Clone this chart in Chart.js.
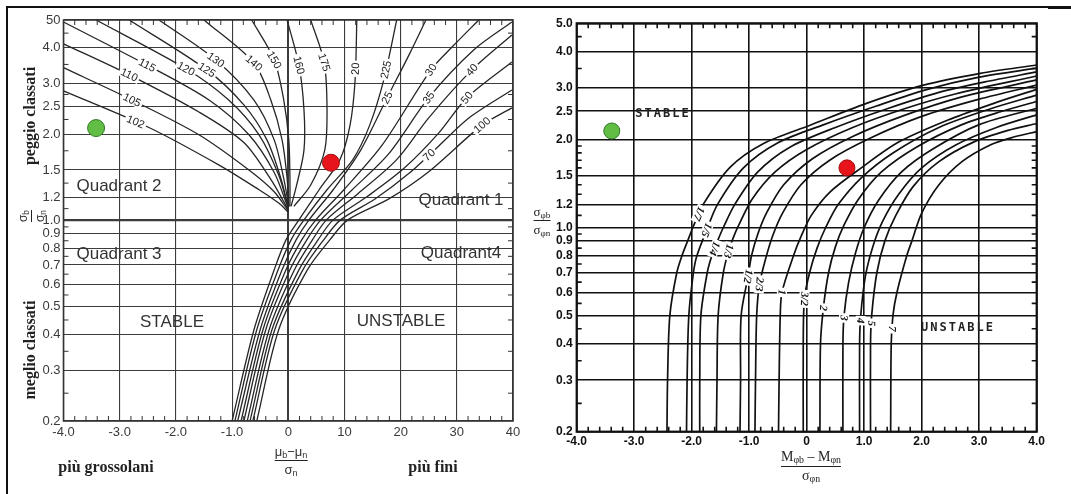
<!DOCTYPE html>
<html><head><meta charset="utf-8">
<script src="https://cdn.jsdelivr.net/npm/chart.js@4.4.1/dist/chart.umd.min.js"></script>
<style>
html,body{margin:0;padding:0;background:#fff;}
body{width:1071px;height:494px;position:relative;overflow:hidden;font-family:"Liberation Sans",Arial,sans-serif;color:#222;}
.abs{position:absolute;white-space:nowrap;}
.c{transform:translate(-50%,-50%);}
.ser{font-family:"Liberation Serif","DejaVu Serif",serif;font-weight:bold;}
.q{font-size:17px;color:#333;}
.frac{display:inline-flex;flex-direction:column;align-items:center;line-height:1;}
.frac .bar{height:1px;background:#222;align-self:stretch;margin:2px 0;}
sub{font-size:70%;vertical-align:-2px;line-height:0;}
#c1{position:absolute;left:0;top:0;}
#c2{position:absolute;left:530px;top:0;}
</style></head><body>
<div class="abs" style="left:6px;top:6px;width:1052px;height:2px;background:#111"></div>
<div class="abs" style="left:6px;top:6px;width:2px;height:488px;background:#111"></div>
<div class="abs" style="left:1048px;top:6px;width:23px;height:3px;background:#111"></div>
<canvas id="c1" width="530" height="494" style="width:530px;height:494px"></canvas>
<canvas id="c2" width="541" height="494" style="width:541px;height:494px"></canvas>

<!-- left chart titles -->
<div class="abs ser" style="left:30px;top:116px;font-size:16px;transform:translate(-50%,-50%) rotate(-90deg);">peggio classati</div>
<div class="abs ser" style="left:30px;top:350px;font-size:16px;transform:translate(-50%,-50%) rotate(-90deg);">meglio classati</div>
<div class="abs" style="left:31px;top:216px;font-size:12px;transform:translate(-50%,-50%) rotate(-90deg);color:#333"><span class="frac"><span>σ<sub>b</sub></span><span class="bar"></span><span>σ<sub>n</sub></span></span></div>
<div class="abs ser" style="left:106px;top:467px;font-size:16px;transform:translate(-50%,-50%);">più grossolani</div>
<div class="abs ser" style="left:433px;top:467px;font-size:16px;transform:translate(-50%,-50%);">più fini</div>
<div class="abs" style="left:291px;top:460px;font-size:13px;transform:translate(-50%,-50%);color:#333"><span class="frac"><span>μ<sub>b</sub>−μ<sub>n</sub></span><span class="bar"></span><span>σ<sub>n</sub></span></span></div>
<div class="abs c q" style="left:119px;top:186px;">Quadrant 2</div>
<div class="abs c q" style="left:461px;top:200px;">Quadrant 1</div>
<div class="abs c q" style="left:119px;top:254px;">Quadrant 3</div>
<div class="abs c q" style="left:461px;top:253px;">Quadrant4</div>
<div class="abs c q" style="left:172px;top:322px;">STABLE</div>
<div class="abs c q" style="left:401px;top:321px;">UNSTABLE</div>

<!-- right chart titles -->
<div class="abs" style="left:542px;top:220px;font-size:13px;transform:translate(-50%,-50%);font-family:'Liberation Serif',serif;"><span class="frac"><span>σ<sub>φb</sub></span><span class="bar"></span><span>σ<sub>φn</sub></span></span></div>
<div class="abs" style="left:811px;top:466px;font-size:14px;transform:translate(-50%,-50%);font-family:'Liberation Serif',serif;"><span class="frac"><span>M<sub>φb</sub> – M<sub>φn</sub></span><span class="bar"></span><span>σ<sub>φn</sub></span></span></div>
<div class="abs c" style="left:663px;top:113px;font-size:12px;font-weight:bold;letter-spacing:2px;font-family:'DejaVu Sans Mono',monospace;">STABLE</div>
<div class="abs c" style="left:958px;top:327px;font-size:12px;font-weight:bold;letter-spacing:2px;font-family:'DejaVu Sans Mono',monospace;">UNSTABLE</div>

<script>
// ---------- LEFT CHART DATA ----------
const leftXTicks = [-4,-3,-2,-1,0,1,2,3,4];
const leftXTickLabels = ['-4.0','-3.0','-2.0','-1.0','0','10','20','30','40'];
const leftYTicks = [0.2,0.3,0.4,0.5,0.6,0.7,0.8,0.9,1.0,1.2,1.5,2.0,2.5,3.0,4.0,5.0];
const leftYTickLabels = ['0.2','0.3','0.4','0.5','0.6','0.7','0.8','0.9','1.0','1.2','1.5','2.0','2.5','3.0','4.0','50'];
const leftMinorY = [4.5,3.5,2.75,2.25,1.75,1.35,1.1,0.95,0.85,0.75,0.65,0.55,0.45,0.35,0.25];

const L102 = [[-4.0,2.83],[-2.48,2.11],[-1.23,1.56],[-0.52,1.28],[-0.17,1.15],[0.0,1.07]];
const L105 = [[-4.0,3.41],[-2.78,2.63],[-1.59,1.99],[-0.70,1.50],[-0.25,1.26],[0.0,1.08]];
const L110 = [[-4.0,4.13],[-2.83,3.22],[-1.59,2.39],[-0.79,1.87],[-0.31,1.39],[0.0,1.09]];
const L115 = [[-4.0,4.92],[-2.51,3.48],[-1.41,2.63],[-0.70,1.99],[-0.25,1.47],[0.0,1.10]];
const L120 = [[-3.42,5.0],[-1.82,3.38],[-1.06,2.63],[-0.52,1.99],[-0.17,1.44],[0.0,1.11]];
const L125 = [[-2.83,5.0],[-1.45,3.35],[-0.79,2.53],[-0.38,1.91],[-0.13,1.40],[0.0,1.11]];
const L130 = [[-2.30,5.0],[-1.29,3.63],[-0.61,2.63],[-0.25,1.91],[-0.08,1.40],[0.01,1.12]];
const L140 = [[-1.50,5.0],[-0.61,3.54],[-0.31,2.63],[-0.11,1.91],[-0.02,1.40],[0.01,1.12]];
const L150 = [[-0.65,5.0],[-0.25,3.63],[-0.08,2.63],[0.01,1.91],[0.03,1.40],[0.03,1.12]];
const L160 = [[-0.02,5.0],[0.19,3.48],[0.28,2.43],[0.28,1.76],[0.15,1.33],[0.05,1.12]];
const L175 = [[0.40,5.0],[0.64,3.56],[0.69,2.43],[0.65,1.76],[0.40,1.33],[0.10,1.12]];
const L20  = [[-1.0,0.2],[-0.61,0.416],[-0.25,0.673],[-0.04,0.856],[0.19,1.005],[0.55,1.28],[0.92,1.63],[1.10,2.15],[1.19,3.09],[1.22,5.0]];
const L225 = [[-0.95,0.2],[-0.56,0.416],[-0.18,0.673],[0.05,0.856],[0.28,1.005],[0.69,1.28],[1.15,1.63],[1.45,2.15],[1.70,3.09],[1.93,5.0]];
const L25  = [[-0.90,0.2],[-0.50,0.416],[-0.11,0.673],[0.14,0.856],[0.37,1.005],[0.80,1.28],[1.29,1.76],[1.76,2.68],[2.15,3.78],[2.45,5.0]];
const L30  = [[-0.84,0.2],[-0.45,0.416],[-0.04,0.673],[0.24,0.856],[0.49,1.005],[0.99,1.28],[1.67,1.83],[2.54,3.35],[2.95,4.09],[3.39,5.0]];
const L35  = [[-0.79,0.2],[-0.40,0.416],[0.03,0.673],[0.33,0.856],[0.58,1.005],[1.12,1.27],[1.79,1.71],[2.50,2.68],[3.30,3.93],[3.98,4.92]];
const L40  = [[-0.73,0.2],[-0.34,0.416],[0.11,0.673],[0.43,0.856],[0.68,1.005],[1.24,1.24],[1.93,1.63],[2.50,2.28],[3.27,3.35],[3.98,4.43]];
const L50  = [[-0.68,0.2],[-0.29,0.416],[0.19,0.673],[0.53,0.856],[0.80,1.005],[1.40,1.21],[2.06,1.52],[2.68,2.02],[3.18,2.68],[3.98,3.57]];
const L70  = [[-0.63,0.2],[-0.24,0.416],[0.26,0.673],[0.63,0.856],[0.93,1.005],[1.55,1.19],[2.15,1.46],[2.68,1.82],[3.22,2.28],[3.98,2.85]];
const L100 = [[-0.56,0.2],[-0.17,0.416],[0.34,0.673],[0.74,0.856],[1.06,1.005],[1.79,1.19],[2.50,1.48],[3.45,2.15],[3.98,2.47]];
const leftCurves = [L102,L105,L110,L115,L120,L125,L130,L140,L150,L160,L175,L20,L225,L25,L30,L35,L40,L50,L70,L100];
const leftCurveLabels = ['102','105','110','115','120','125','130','140','150','160','175','20','225','25','30','35','40','50','70','100'];
const leftLabelX = [-2.71,-2.78,-2.83,-2.51,-1.82,-1.45,-1.29,-0.61,-0.25,0.19,0.64,1.20,1.67,1.76,2.54,2.50,3.27,3.18,2.45,3.45];
const leftLabelY = [2.22,2.63,3.22,3.48,3.38,3.35,3.63,3.54,3.63,3.48,3.56,3.38,3.38,2.68,3.35,2.68,3.35,2.68,1.74,2.15];
const leftGreen = [-3.42,2.10];
const leftRed = [0.76,1.59];

// ---------- RIGHT CHART DATA ----------
const rightXTicks = [-4,-3,-2,-1,0,1,2,3,4];
const rightXTickLabels = ['-4.0','-3.0','-2.0','-1.0','0','1.0','2.0','3.0','4.0'];
const rightYTicks = [0.2,0.3,0.4,0.5,0.6,0.7,0.8,0.9,1.0,1.2,1.5,2.0,2.5,3.0,4.0,5.0];
const rightYTickLabels = ['0.2','0.3','0.4','0.5','0.6','0.7','0.8','0.9','1.0','1.2','1.5','2.0','2.5','3.0','4.0','5.0'];
const rightMinorY = [4.5,3.5,1.9,1.8,1.7,1.6,1.4,1.3,1.1,0.95,0.85,0.75,0.65,0.55,0.45,0.35,0.25];

const R17 = [[-2.43,0.2],[-2.42,0.3],[-2.38,0.5],[-2.26,0.7],[-2.17,0.8],[-2.07,0.9],[-1.98,1.0],[-1.80,1.2],[-1.33,1.61],[-0.75,1.94],[0.06,2.24],[1.04,2.66],[2.03,3.07],[3.02,3.37],[4.0,3.60]];
const R15 = [[-2.09,0.2],[-2.08,0.3],[-2.05,0.5],[-1.97,0.7],[-1.91,0.8],[-1.74,0.98],[-1.55,1.2],[-1.10,1.6],[-0.50,1.95],[0.30,2.25],[1.20,2.60],[2.10,2.97],[3.00,3.27],[4.0,3.51]];
const R14 = [[-1.86,0.2],[-1.86,0.3],[-1.84,0.5],[-1.73,0.7],[-1.65,0.8],[-1.55,0.9],[-1.45,1.0],[-1.25,1.2],[-0.85,1.55],[-0.30,1.88],[0.50,2.20],[1.40,2.55],[2.30,2.90],[3.10,3.15],[4.0,3.41]];
const R13 = [[-1.57,0.2],[-1.56,0.3],[-1.54,0.5],[-1.45,0.7],[-1.36,0.83],[-1.28,0.92],[-1.18,1.02],[-0.95,1.25],[-0.55,1.55],[0.0,1.85],[0.80,2.20],[1.70,2.55],[2.60,2.87],[4.0,3.30]];
const R12 = [[-1.16,0.2],[-1.15,0.3],[-1.14,0.5],[-1.02,0.68],[-0.96,0.8],[-0.85,0.95],[-0.70,1.12],[-0.40,1.40],[0.10,1.72],[0.80,2.05],[1.70,2.42],[2.70,2.80],[4.0,3.20]];
const R23 = [[-0.90,0.2],[-0.89,0.3],[-0.87,0.5],[-0.82,0.64],[-0.70,0.8],[-0.58,0.95],[-0.42,1.12],[-0.10,1.40],[0.40,1.70],[1.10,2.02],[2.00,2.40],[3.00,2.75],[4.0,3.07]];
const R1  = [[-0.49,0.2],[-0.48,0.3],[-0.46,0.5],[-0.43,0.60],[-0.23,0.8],[-0.10,0.93],[0.08,1.10],[0.40,1.32],[0.95,1.60],[1.60,1.96],[2.50,2.35],[3.30,2.68],[4.0,2.97]];
const R32 = [[-0.06,0.2],[-0.06,0.4],[-0.04,0.57],[0.05,0.70],[0.18,0.85],[0.33,1.0],[0.55,1.2],[0.95,1.48],[1.50,1.80],[2.30,2.20],[3.20,2.55],[4.0,2.84]];
const R2  = [[0.23,0.2],[0.24,0.4],[0.29,0.53],[0.38,0.70],[0.50,0.86],[0.65,1.02],[0.90,1.25],[1.30,1.55],[1.90,1.88],[2.70,2.25],[3.40,2.50],[4.0,2.70]];
const R3  = [[0.63,0.2],[0.63,0.4],[0.65,0.5],[0.73,0.65],[0.85,0.82],[1.00,1.0],[1.25,1.24],[1.65,1.55],[2.20,1.86],[3.00,2.25],[4.0,2.56]];
const R4  = [[0.92,0.2],[0.92,0.4],[0.94,0.5],[1.02,0.68],[1.15,0.86],[1.32,1.05],[1.60,1.30],[2.00,1.60],[2.60,1.92],[3.30,2.20],[4.0,2.43]];
const R5  = [[1.11,0.2],[1.11,0.4],[1.13,0.5],[1.22,0.7],[1.36,0.9],[1.55,1.1],[1.85,1.38],[2.30,1.68],[2.90,1.96],[3.50,2.15],[4.0,2.27]];
const R7  = [[1.46,0.2],[1.47,0.4],[1.50,0.5],[1.57,0.6],[1.74,0.8],[1.83,0.9],[2.00,1.12],[2.30,1.40],[2.70,1.68],[3.20,1.92],[3.60,2.04],[4.0,2.13]];
const rightCurves = [R17,R15,R14,R13,R12,R23,R1,R32,R2,R3,R4,R5,R7];
const rightCurveLabels = ['1/7','1/5','1/4','1/3','1/2','2/3','1','3/2','2','3','4','5','7'];
const rightLabelX = [-1.90,-1.74,-1.62,-1.36,-1.02,-0.84,-0.43,-0.04,0.29,0.66,0.95,1.14,1.50];
const rightLabelY = [1.12,0.98,0.85,0.83,0.68,0.64,0.60,0.57,0.53,0.49,0.48,0.47,0.45];
const rightGreen = [-3.39,2.14];
const rightRed = [0.70,1.60];

// ---------- HELPERS ----------
function toXY(arr){ return arr.map(p=>({x:p[0],y:p[1]})); }

function snapLabel(chart, pts, lx, ly){
  const xs = chart.scales.x, ys = chart.scales.y;
  const P = pts.map(p=>[xs.getPixelForValue(p[0]), ys.getPixelForValue(p[1])]);
  const tx = xs.getPixelForValue(lx), ty = ys.getPixelForValue(ly);
  let best = null;
  for(let i=0;i<P.length-1;i++){
    const [x1,y1]=P[i], [x2,y2]=P[i+1];
    const dx=x2-x1, dy=y2-y1, L2=dx*dx+dy*dy||1;
    let t=((tx-x1)*dx+(ty-y1)*dy)/L2; t=Math.max(0,Math.min(1,t));
    const px=x1+t*dx, py=y1+t*dy, d=(px-tx)**2+(py-ty)**2;
    if(!best||d<best.d) best={d,px,py,ang:Math.atan2(dy,dx)};
  }
  return best;
}

const curveLabelPlugin = {
  id:'curveLabels',
  afterDatasetsDraw(chart, args, o){
    const ctx = chart.ctx;
    ctx.save();
    ctx.font = o.font;
    ctx.textAlign='center'; ctx.textBaseline='middle';
    o.texts.forEach((t,i)=>{
      const s = snapLabel(chart, o.curves[i], o.xs[i], o.ys[i]);
      let a = s.ang;
      if(o.down){ while(a<=0) a+=Math.PI; while(a>Math.PI) a-=Math.PI; }
      else { while(a>Math.PI/2) a-=Math.PI; while(a<=-Math.PI/2) a+=Math.PI; }
      ctx.save();
      ctx.translate(s.px, s.py);
      ctx.rotate(a);
      const w = ctx.measureText(t).width;
      ctx.fillStyle='#fff';
      ctx.fillRect(-w/2-2,-o.h/2,w+4,o.h);
      ctx.fillStyle=o.color;
      ctx.fillText(t,0,0.5);
      ctx.restore();
    });
    ctx.restore();
  }
};

const framePlugin = {
  id:'frame',
  afterDraw(chart, args, o){
    const {ctx, chartArea:a, scales:{x,y}} = chart;
    ctx.save();
    ctx.strokeStyle=o.color; ctx.lineWidth=o.width;
    ctx.strokeRect(a.left,a.top,a.right-a.left,a.bottom-a.top);
    ctx.lineWidth=o.tickWidth;
    ctx.beginPath();
    for(let v=-3.8; v<3.95; v+=0.2){
      if(Math.abs(v-Math.round(v))<0.01) continue;
      const px=x.getPixelForValue(v);
      ctx.moveTo(px,a.top); ctx.lineTo(px,a.top+o.len);
      ctx.moveTo(px,a.bottom); ctx.lineTo(px,a.bottom-o.len);
    }
    o.minorY.forEach(v=>{
      const py=y.getPixelForValue(v);
      ctx.moveTo(a.left,py); ctx.lineTo(a.left+o.len,py);
      ctx.moveTo(a.right,py); ctx.lineTo(a.right-o.len,py);
    });
    ctx.stroke(); ctx.restore();
  }
};

function makeChart(id, cfg){
  const curveSets = cfg.curves.map(c=>({
    data: toXY(c), showLine:true, pointRadius:0, borderColor:cfg.lineColor,
    borderWidth:cfg.lineWidth, tension:0.3, fill:false, order:2
  }));
  const dot = (p,fillc,border)=>({data:[{x:p[0],y:p[1]}], showLine:false, pointRadius:cfg.dotR,
    pointBackgroundColor:fillc, pointBorderColor:border, pointBorderWidth:1, order:0});
  const yLab = {}; cfg.yTicks.forEach((v,i)=>yLab[v]=cfg.yLabels[i]);
  const xLab = {}; cfg.xTicks.forEach((v,i)=>xLab[v]=cfg.xLabels[i]);
  return new Chart(document.getElementById(id), {
    type:'scatter',
    data:{datasets:[...curveSets, dot(cfg.green,'#62bd45','#2f7a25'), dot(cfg.red,'#e8141b','#a50d10')]},
    options:{
      responsive:false, animation:false, devicePixelRatio:1,
      layout:{padding:cfg.padding},
      plugins:{legend:{display:false}, tooltip:{enabled:false},
        curveLabels:cfg.labels, frame:cfg.frame},
      scales:{
        x:{type:'linear', min:-4, max:4,
          afterBuildTicks:s=>{s.ticks=cfg.xTicks.map(v=>({value:v}));},
          afterFit:s=>{s.height=cfg.xH;},
          ticks:{autoSkip:false, maxRotation:0, padding:cfg.xPad, color:cfg.tickColor, font:cfg.tickFont,
            callback:v=>xLab[v]},
          grid:{drawTicks:false, color:cfg.gridColor,
            lineWidth:c=>(c.tick && c.tick.value===0 ? cfg.thickX : cfg.gridW)},
          border:{display:false}},
        y:{type:'logarithmic', min:0.2, max:5,
          afterBuildTicks:s=>{s.ticks=cfg.yTicks.map(v=>({value:v}));},
          afterFit:s=>{s.width=cfg.yW;},
          ticks:{autoSkip:false, padding:cfg.yPad, color:cfg.tickColor, font:cfg.tickFont,
            callback:v=>yLab[v]},
          grid:{drawTicks:false, color:cfg.gridColor,
            lineWidth:c=>(c.tick && Math.abs(c.tick.value-1)<1e-9 ? cfg.thickY : cfg.gridW)},
          border:{display:false}}
      }
    },
    plugins:[curveLabelPlugin, framePlugin]
  });
}

makeChart('c1', {
  curves:leftCurves, lineColor:'#262626', lineWidth:1.3, dotR:8.5,
  green:leftGreen, red:leftRed,
  xTicks:leftXTicks, xLabels:leftXTickLabels, yTicks:leftYTicks, yLabels:leftYTickLabels,
  padding:{left:18.5, right:17, top:20, bottom:53},
  xH:20, yW:45, xPad:4, yPad:3,
  tickColor:'#3a3a3a', tickFont:{family:'"Liberation Sans Narrow","Arial Narrow","Liberation Sans",sans-serif', size:13},
  gridColor:'#3c3c3c', gridW:1.1, thickX:2, thickY:2.2,
  labels:{curves:leftCurves, texts:leftCurveLabels, xs:leftLabelX, ys:leftLabelY, down:false,
    font:'11px "Liberation Sans Narrow","Liberation Sans",sans-serif', color:'#222', h:10},
  frame:{color:'#333', width:1.6, tickWidth:1, len:5, minorY:leftMinorY}
});

makeChart('c2', {
  curves:rightCurves, lineColor:'#111', lineWidth:1.7, dotR:8,
  green:rightGreen, red:rightRed,
  xTicks:rightXTicks, xLabels:rightXTickLabels, yTicks:rightYTicks, yLabels:rightYTickLabels,
  padding:{left:16.7, right:34.3, top:23.3, bottom:44.3},
  xH:18, yW:30, xPad:3, yPad:4,
  tickColor:'#111', tickFont:{family:'"Liberation Sans Narrow","Arial Narrow","Liberation Sans",sans-serif', size:12, weight:'bold'},
  gridColor:'#111', gridW:1.6, thickX:1.6, thickY:1.6,
  labels:{curves:rightCurves, texts:rightCurveLabels, xs:rightLabelX, ys:rightLabelY, down:true,
    font:'italic bold 11px "Liberation Serif",serif', color:'#111', h:10},
  frame:{color:'#111', width:2.2, tickWidth:1.6, len:5, minorY:rightMinorY}
});
</script>
</body></html>
